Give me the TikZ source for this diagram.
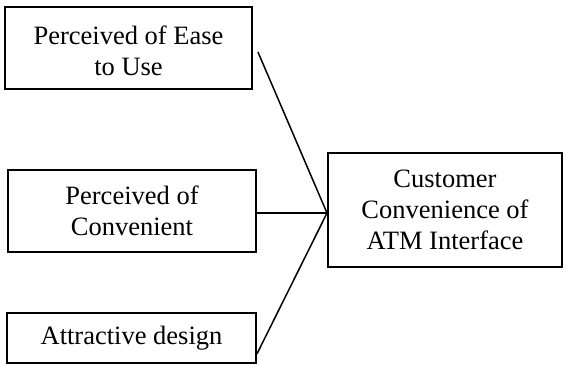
\documentclass[tikz,border=0pt]{standalone}
\usepackage{fontspec}
\setmainfont{Liberation Serif}
\usetikzlibrary{positioning,calc}

\begin{document}
\begin{tikzpicture}[x=1pt,y=-1pt,
  var/.style={rectangle,draw,line width=1.9pt,align=center,inner sep=0pt,
    font=\fontsize{26.5}{31}\selectfont},
  link/.style={line width=1.5pt}]
  \useasboundingbox (0,0) rectangle (572,365);
  \node[var,minimum width=247pt,minimum height=82pt](pe) at (128.5,48){\raisebox{-6pt}[\height][\depth]{\begin{tabular}{@{}c@{}}Perceived of Ease\\to Use\end{tabular}}};
  \node[var,minimum width=248pt,minimum height=82pt](pc) at (132,211){Perceived of\\Convenient};
  \node[var,minimum width=249pt,minimum height=50pt](ad) at (131.5,338){Attractive design};
  \node[var,minimum width=234pt,minimum height=114pt](cc) at (445,210){Customer\\Convenience of\\ATM Interface};
  \coordinate (j) at (327,213);
  \draw[link] ([xshift=5pt,yshift=-4pt]pe.east)--(j);
  \draw[link] ([yshift=-2pt]pc.east)--(j);
  \draw[link] ([yshift=10pt]ad.south east)--(j);
\end{tikzpicture}
\end{document}
